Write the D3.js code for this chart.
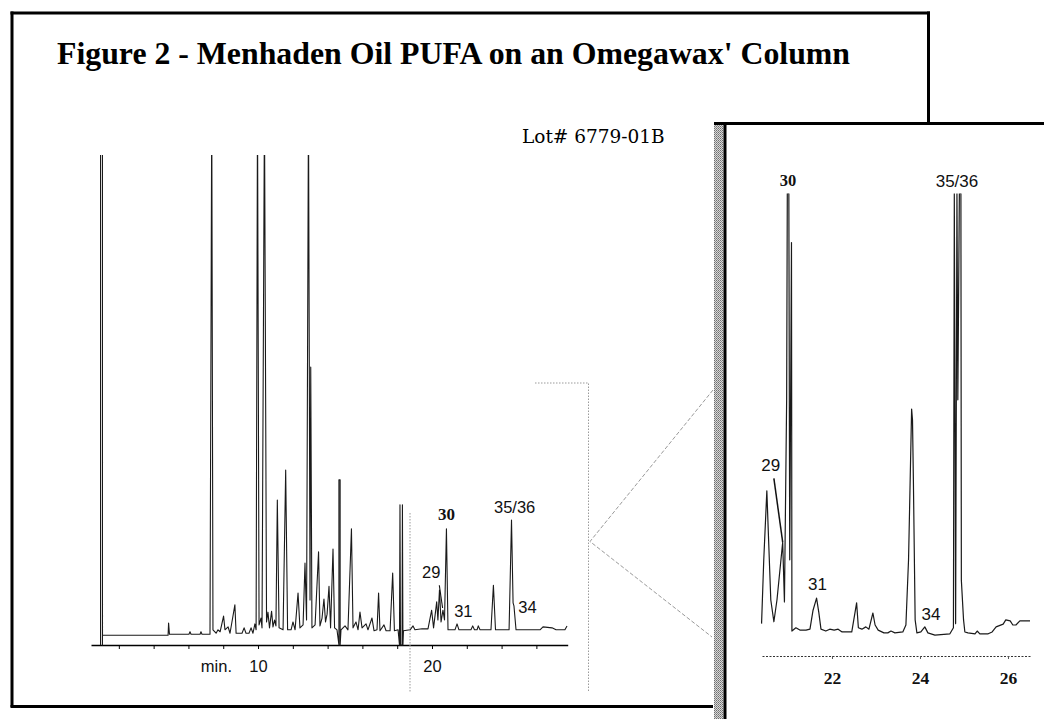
<!DOCTYPE html>
<html>
<head>
<meta charset="utf-8">
<script src="https://cdn.jsdelivr.net/npm/d3@7"></script>
<style>
  body { margin: 0; background: #fff; }
  svg { display: block; }
  .sans { font-family: "Liberation Sans", Arial, Helvetica, sans-serif; }
  .serif { font-family: "Liberation Serif", "Times New Roman", serif; }
</style>
</head>
<body>
<div id="chart"></div>
<script>
/* Menhaden oil PUFA chromatogram, full run plus zoomed inset */

// full run: [minutes, detector response], 100 = top of plot (tall peaks run off the top)
const mainTrace = [
  [0.95, 0], [0.95, 110], [1.06, 110], [1.06, 0], [1.06, 2.0], [4.83, 2.0], [4.86, 4.5], [4.91, 2.2],
  [6.03, 2.2], [6.09, 2.7], [6.15, 2.2], [6.67, 2.2], [6.72, 2.7], [6.78, 2.2], [7.24, 2.2], [7.34, 110],
  [7.41, 3.1], [7.59, 2.4], [7.70, 3.1], [7.82, 2.7], [8.02, 5.9], [8.10, 3.1], [8.28, 3.7], [8.39, 2.4],
  [8.67, 8.2], [8.74, 2.4], [9.08, 2.4], [9.20, 3.5], [9.31, 2.4], [9.48, 2.4], [9.60, 3.5], [9.71, 2.4],
  [9.82, 4.3], [9.89, 3.1], [9.97, 110], [10.06, 4.1], [10.17, 5.5], [10.23, 3.5], [10.37, 110], [10.49, 4.7],
  [10.57, 6.7], [10.66, 3.5], [10.78, 6.9], [10.86, 3.7], [10.95, 5.1], [11.03, 3.9], [11.11, 29.6], [11.21, 3.5],
  [11.44, 3.1], [11.59, 35.7], [11.70, 3.1], [11.90, 3.1], [12.01, 4.7], [12.13, 3.1], [12.30, 10.6], [12.41, 3.5],
  [12.59, 4.1], [12.70, 16.7], [12.79, 5.1], [12.90, 110], [12.99, 9.2], [13.03, 56.7], [13.10, 3.5], [13.28, 4.1],
  [13.48, 19.0], [13.56, 3.9], [13.68, 5.5], [13.79, 9.4], [13.88, 4.7], [13.97, 6.3], [14.08, 12.0], [14.17, 3.5],
  [14.31, 19.6], [14.40, 3.5], [14.54, 3.1], [14.65, 0], [14.65, 33.7], [14.72, 33.7], [14.72, 0], [14.77, 3.1],
  [15.00, 3.9], [15.17, 3.1], [15.37, 23.7], [15.46, 3.5], [15.63, 4.7], [15.75, 3.1], [15.86, 6.7], [15.98, 3.5],
  [16.21, 4.3], [16.32, 3.1], [16.55, 5.5], [16.67, 2.9], [16.84, 3.1], [16.93, 10.6], [17.01, 2.9], [17.24, 4.1],
  [17.36, 2.9], [17.59, 2.9], [17.74, 14.7], [17.84, 2.9], [18.05, 3.1], [18.13, 0], [18.16, 28.6], [18.19, 0],
  [18.28, 0], [18.30, 28.6], [18.33, 0], [18.36, 2.9], [18.74, 3.1], [18.91, 3.9], [19.02, 3.1], [19.43, 3.3],
  [19.77, 3.3], [19.98, 7.1], [20.09, 3.5], [20.27, 8.8], [20.34, 5.1], [20.43, 11.2], [20.52, 4.7], [20.63, 7.1],
  [20.72, 5.1], [20.83, 23.7], [20.92, 3.1], [21.32, 3.1], [21.44, 4.3], [21.55, 3.1], [22.24, 3.1], [22.34, 3.9],
  [22.44, 3.1], [22.59, 3.1], [22.66, 3.9], [22.76, 3.1], [23.39, 3.1], [23.53, 12.2], [23.65, 3.1], [24.43, 3.1],
  [24.57, 25.5], [24.66, 8.6], [24.71, 8.0], [24.83, 3.1], [26.21, 3.1], [26.38, 3.7], [26.90, 3.5], [27.13, 3.1],
  [27.64, 3.1], [27.76, 3.9]
];
const mainTicks = [2, 4, 6, 8, 10, 12, 14, 16, 18, 20, 22, 24, 26];
const mainTickLabels = { 10: '10', 20: '20' };
// peak labels: [text, minutes, response]
const mainPeakLabels = [['30', 20.84, 25.5], ['35/36', 24.75, 26.9], ['29', 19.96, 13.7], ['31', 21.80, 5.7], ['34', 25.49, 6.5]];
const mainLeader = [[20.42, 12.2], [20.61, 7.55]];

// inset: 20.4 - 26.5 min, rescaled response
const insetTrace = [
  [20.40, 7.0], [20.45, 20.8], [20.52, 35.7], [20.56, 25.1], [20.61, 12.1], [20.68, 7.4], [20.75, 12.1], [20.88, 24.6],
  [20.92, 11.7], [20.97, 55.4], [20.985, 100], [21.02, 100], [21.04, 20.8], [21.08, 89.4], [21.09, 5.4], [21.18, 6.1],
  [21.27, 5.6], [21.41, 5.6], [21.50, 5.8], [21.57, 9.9], [21.65, 12.5], [21.70, 9.5], [21.75, 5.8], [21.86, 5.4],
  [21.95, 5.8], [22.05, 5.6], [22.14, 5.8], [22.23, 5.2], [22.45, 5.2], [22.56, 11.5], [22.60, 6.1], [22.68, 5.8],
  [22.77, 6.3], [22.84, 5.8], [22.93, 9.3], [22.98, 6.7], [23.05, 5.6], [23.18, 5.0], [23.27, 5.0], [23.34, 5.4],
  [23.43, 5.0], [23.61, 5.2], [23.68, 6.7], [23.74, 20.8], [23.81, 53.4], [23.83, 51.0], [23.85, 38.1], [23.89, 7.8],
  [23.93, 5.0], [24.02, 5.2], [24.11, 6.3], [24.18, 5.0], [24.34, 4.5], [24.68, 4.8], [24.76, 6.1], [24.78, 100],
  [24.81, 7.0], [24.84, 100], [24.86, 55.4], [24.895, 100], [24.93, 100], [24.94, 16.4], [24.99, 7.8], [25.02, 5.2],
  [25.09, 5.0], [25.25, 4.8], [25.30, 5.4], [25.36, 4.8], [25.55, 4.8], [25.64, 5.2], [25.73, 6.3], [25.89, 6.9],
  [25.95, 7.8], [26.05, 7.6], [26.11, 6.7], [26.18, 6.7], [26.27, 7.6], [26.50, 7.6]
];
const insetTicks = [22, 24, 26];
const insetPeakLabels = [['30', 21.0, 101.6], ['35/36', 24.84, 101.4], ['29', 20.61, 40.0], ['31', 21.67, 14.3], ['34', 24.25, 7.8]];
const insetLeader = [[20.68, 38.4], [20.88, 24.6]];

const title = "Figure 2 - Menhaden Oil PUFA on an Omegawax' Column";
const lotText = 'Lot# 6779-01B';

function drawFrame(svg) {
  const defs = svg.append('defs');
  const pat = defs.append('pattern').attr('id', 'stipple')
    .attr('width', 2).attr('height', 2).attr('patternUnits', 'userSpaceOnUse');
  pat.append('rect').attr('width', 2).attr('height', 2).attr('fill', '#d8d8d8');
  pat.append('rect').attr('width', 1).attr('height', 1).attr('fill', '#6e6e6e');
  pat.append('rect').attr('x', 1).attr('y', 1).attr('width', 1).attr('height', 1).attr('fill', '#8c8c8c');

  const edge = (x1, y1, x2, y2, w) => svg.append('line')
    .attr('x1', x1).attr('y1', y1).attr('x2', x2).attr('y2', y2)
    .attr('stroke', '#000').attr('stroke-width', w);

  // outer page frame
  edge(12, 11.5, 12, 707, 3);
  edge(10.5, 13, 930, 13, 3);
  edge(928.5, 11.5, 928.5, 124, 3);
  edge(10.5, 706.5, 713, 706.5, 3);

  // inset card
  svg.append('rect').attr('x', 714).attr('y', 124).attr('width', 9.5).attr('height', 595).attr('fill', 'url(#stipple)');
  edge(714, 123.5, 1044, 123.5, 3);
  edge(725, 122, 725, 719, 3);

  svg.append('text').attr('class', 'serif')
    .attr('x', 57).attr('y', 64)
    .attr('textLength', 793).attr('lengthAdjust', 'spacingAndGlyphs')
    .style('font-size', '32px').style('font-weight', 'bold')
    .text(title);

  svg.append('text')
    .attr('x', 522).attr('y', 143)
    .style('font-family', '"DejaVu Serif", serif').style('font-size', '18.5px')
    .text(lotText);
}

function renderMain(svg) {
  const x = d3.scaleLinear().domain([0.4, 27.8]).range([91, 567.7]);
  const y = d3.scaleLinear().domain([0, 100]).range([645, 155]);

  svg.append('clipPath').attr('id', 'clip-main')
    .append('rect').attr('x', 80).attr('y', 155).attr('width', 520).attr('height', 500);

  const axis = svg.append('g').attr('class', 'sans')
    .attr('transform', 'translate(0,645)')
    .call(d3.axisBottom(x).tickValues(mainTicks).tickSize(4).tickSizeOuter(0).tickPadding(11)
      .tickFormat(d => mainTickLabels[d] || ''));
  axis.style('font-family', null);
  axis.select('.domain').attr('stroke-width', 1.6);
  axis.selectAll('.tick line').attr('stroke-width', 1);
  axis.selectAll('text').style('font-size', '16.5px').attr('fill', '#111');

  svg.append('text').attr('class', 'sans')
    .attr('x', 232).attr('y', 672).attr('text-anchor', 'end')
    .style('font-size', '16.5px').attr('fill', '#111')
    .text('min.');

  const line = d3.line().x(d => x(d[0])).y(d => y(d[1]));
  svg.append('path').datum(mainTrace)
    .attr('clip-path', 'url(#clip-main)')
    .attr('d', line)
    .attr('fill', 'none').attr('stroke', '#1a1a1a').attr('stroke-width', 1.1)
    .attr('stroke-linejoin', 'round');

  svg.append('path').datum(mainLeader).attr('d', line)
    .attr('fill', 'none').attr('stroke', '#111').attr('stroke-width', 1.1);

  svg.selectAll('.main-label').data(mainPeakLabels).enter().append('text')
    .attr('class', d => d[0] === '30' ? 'serif' : 'sans')
    .attr('x', d => x(d[1])).attr('y', d => y(d[2]))
    .attr('text-anchor', 'middle')
    .style('font-size', d => d[0] === '30' ? '17px' : '16.5px')
    .style('font-weight', d => d[0] === '30' ? 'bold' : 'normal')
    .attr('fill', '#111')
    .text(d => d[0]);
}

function renderInset(svg) {
  const x = d3.scaleLinear().domain([20.41, 26.5]).range([762, 1030]);
  const y = d3.scaleLinear().domain([0, 100]).range([656, 193.5]);

  // zoom box on the full run and the guide lines to the inset
  const guide = '#9a9a9a';
  const dotted = (pts, dash) => svg.append('path')
    .attr('d', d3.line()(pts))
    .attr('fill', 'none').attr('stroke', guide).attr('stroke-width', 1)
    .attr('stroke-dasharray', dash);
  dotted([[410, 513], [410, 692]], '1.5,1.5');
  dotted([[535, 383], [588.5, 383], [588.5, 692]], '1.5,1.5');
  dotted([[713, 390], [590, 541.5], [712, 637]], '4,2');

  svg.append('clipPath').attr('id', 'clip-inset')
    .append('rect').attr('x', 727).attr('y', 193.5).attr('width', 317).attr('height', 500);

  const axis = svg.append('g').attr('class', 'serif')
    .attr('transform', 'translate(0,656)')
    .call(d3.axisBottom(x).tickValues(insetTicks).tickSize(3).tickSizeOuter(0).tickPadding(13)
      .tickFormat(d3.format('d')));
  axis.style('font-family', null);
  axis.select('.domain').attr('stroke', '#333').attr('stroke-width', 1).attr('stroke-dasharray', '2,1.5');
  axis.selectAll('.tick line').attr('stroke', '#555');
  axis.selectAll('text').style('font-size', '17.5px').style('font-weight', 'bold').attr('fill', '#111');

  const line = d3.line().x(d => x(d[0])).y(d => y(d[1]));
  svg.append('path').datum(insetTrace)
    .attr('clip-path', 'url(#clip-inset)')
    .attr('d', line)
    .attr('fill', 'none').attr('stroke', '#1a1a1a').attr('stroke-width', 1.2)
    .attr('stroke-linejoin', 'round');

  svg.append('path').datum(insetLeader).attr('d', line)
    .attr('fill', 'none').attr('stroke', '#111').attr('stroke-width', 1.5);

  svg.selectAll('.inset-label').data(insetPeakLabels).enter().append('text')
    .attr('class', d => d[0] === '30' ? 'serif' : 'sans')
    .attr('x', d => x(d[1])).attr('y', d => y(d[2]))
    .attr('text-anchor', 'middle')
    .style('font-size', d => d[0] === '30' ? '16.5px' : '17px')
    .style('font-weight', d => d[0] === '30' ? 'bold' : 'normal')
    .attr('fill', '#111')
    .text(d => d[0]);
}

function init() {
  const svg = d3.select('#chart').append('svg')
    .attr('width', 1044).attr('height', 719);
  svg.append('rect').attr('width', 1044).attr('height', 719).attr('fill', '#fff');
  drawFrame(svg);
  renderMain(svg);
  renderInset(svg);
}

document.addEventListener('DOMContentLoaded', init);
</script>
</body>
</html>
